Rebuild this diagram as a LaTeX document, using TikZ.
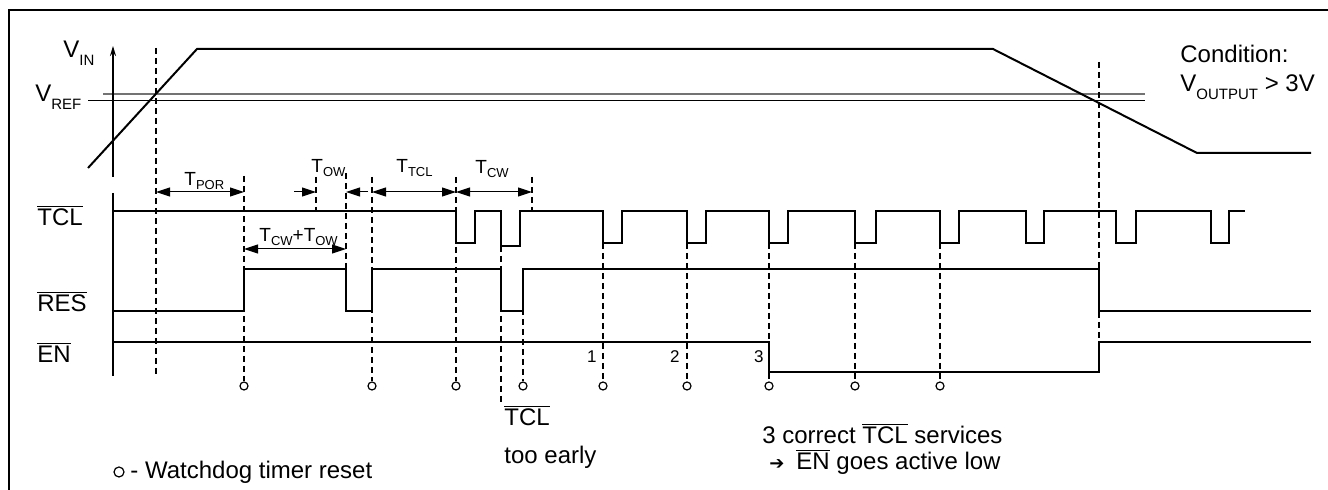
\documentclass[tikz,border=0pt]{standalone}
\usepackage{fontspec}
\setmainfont{Liberation Sans}
\newfontfamily\symfont{DejaVu Sans}
\usetikzlibrary{arrows.meta}
\newcommand{\ovl}[1]{$\overline{\mbox{#1}}$}
\newcommand{\vsub}[1]{\raisebox{-4pt}{\fontsize{7.5}{8}\selectfont #1}}
\newcommand{\tsub}[1]{\raisebox{-2pt}{\fontsize{6.5}{7}\selectfont #1}}
\begin{document}
\begin{tikzpicture}[x=0.5pt,y=-0.5pt,
  wave/.style={line width=1pt},
  guide/.style={line width=0.9pt, dash pattern=on 3pt off 2pt},
  dim/.style={line width=0.5pt, {Triangle[length=7pt,width=4.5pt]}-{Triangle[length=7pt,width=4.5pt]}},
  dimone/.style={line width=0.5pt, -{Triangle[length=7pt,width=4.5pt]}},
  lbl/.style={font=\fontsize{12}{14}\selectfont, inner sep=0pt},
  tlbl/.style={font=\fontsize{9.5}{11}\selectfont, inner sep=0pt},
  num/.style={font=\fontsize{8.5}{10}\selectfont, inner sep=0pt},
  reset/.style={circle, draw, line width=0.6pt, fill=white, inner sep=0pt, minimum size=4pt}]
\useasboundingbox (0,0) rectangle (1328,490);
% frame
\draw[line width=1pt] (9,490) -- (9,10) -- (1328,10);
% input voltage
\draw[black!55, line width=1pt] (103,94) -- (1145,94);
\draw[line width=0.5pt] (88,101) -- (1145,101);
\draw[line width=1pt, -{Stealth[length=5pt,width=3pt]}] (113,177) -- (113,46);
\draw[wave] (88,168) -- (197,49) -- (993,49) -- (1197,153) -- (1311,153);
\node[lbl, anchor=base west] (vin) at (63,58) {V\vsub{IN}};
\node[lbl, anchor=base west] (vref) at (35,102) {V\vsub{REF}};
\node[lbl, anchor=base west] (cond) at (1180,63) {Condition:};
\node[lbl, anchor=base west] (vout) at (1180,92) {V\vsub{OUTPUT} > 3V};
% guide lines
\draw[guide] (156,48) -- (156,376);
\draw[guide] (316,177) -- (316,211);
\draw[guide] (346,173) -- (346,269);
\draw[guide] (501,246) -- (501,402);
\draw[guide] (532,177) -- (532,211);
\draw[guide] (1099,62) -- (1099,372);
\foreach \x/\top [count=\i] in {244/176, 372/177, 456/177, 523/269, 603/243,
    687/243, 769/243, 855/243, 940/243} {
  \node[reset] (wd\i) at (\x,386) {};
  \draw[guide] (\x,\top) -- (wd\i.north);
}
% signals
\draw[wave] (113,193) -- (113,376);
\draw[wave] (113,211) -- (456,211) -- (456,243) -- (475,243) -- (475,211)
  -- (501,211) -- (501,246) -- (520,246) -- (520,211)
  \foreach \a/\b in {603/622, 687/706, 769/788, 855/876, 940/959, 1026/1044,
    1116/1136, 1211/1229} { -- (\a,211) -- (\a,243) -- (\b,243) -- (\b,211) }
  -- (1245,211);
\draw[wave] (113,311) -- (244,311) -- (244,269) -- (346,269) -- (346,311)
  -- (372,311) -- (372,269) -- (501,269) -- (501,311) -- (523,311)
  -- (523,269) -- (1099,269) -- (1099,311) -- (1311,311);
\draw[wave] (113,342) -- (769,342) -- (769,372) -- (1099,372) -- (1099,342)
  -- (1311,342);
\node[lbl, anchor=base west] (tcl) at (37,226) {\ovl{TCL}};
\node[lbl, anchor=base west] (res) at (37,312) {\ovl{RES}};
\node[lbl, anchor=base west] (en) at (37,363) {\ovl{EN}};
% timings
\coordinate (porA) at (156,192);
\coordinate (porB) at (244,192);
\coordinate (owA) at (294,192);
\coordinate (owB) at (316,192);
\coordinate (owC) at (346,192);
\coordinate (owD) at (368,192);
\coordinate (tclA) at (372,192);
\coordinate (tclB) at (456,192);
\coordinate (cwA) at (456,192);
\coordinate (cwB) at (532,192);
\coordinate (sumA) at (244,249);
\coordinate (sumB) at (346,249);
\draw[dim] (porA) -- (porB);
\draw[dimone] (owA) -- (owB);
\draw[dimone] (owD) -- (owC);
\draw[dim] (tclA) -- (tclB);
\draw[dim] (cwA) -- (cwB);
\draw[dim] (sumA) -- (sumB);
\node[tlbl, anchor=base west] (tpor) at (184,186) {T\tsub{POR}};
\node[tlbl, anchor=base west] (tow) at (311,173) {T\tsub{OW}};
\node[tlbl, anchor=base west] (ttcl) at (396,173) {T\tsub{TCL}};
\node[tlbl, anchor=base west] (tcw) at (475,174) {T\tsub{CW}};
\node[tlbl, anchor=base west] (tsum) at (259,242) {T\tsub{CW}+T\tsub{OW}};
% counts and notes
\node[num, anchor=base east] (n1) at (597,363) {1};
\node[num, anchor=base east] (n2) at (680,363) {2};
\node[num, anchor=base east] (n3) at (764,363) {3};
\node[lbl, anchor=base west] (early) at (504,426) {\ovl{TCL}};
\node[lbl, anchor=base west] (earlytxt) at (504,464) {too early};
\node[lbl, anchor=base west] (correct) at (762,444) {3 correct \ovl{TCL} services};
\node[lbl, anchor=base west] (active) at (769,470) {{\symfont\fontsize{9}{10}\selectfont ➔}\hspace{6pt}\ovl{EN} goes active low};
\node[reset, minimum size=5pt] (legcirc) at (119,472) {};
\node[lbl, anchor=base west] (legend) at (130,479) {- Watchdog timer reset};
\end{tikzpicture}
\end{document}
